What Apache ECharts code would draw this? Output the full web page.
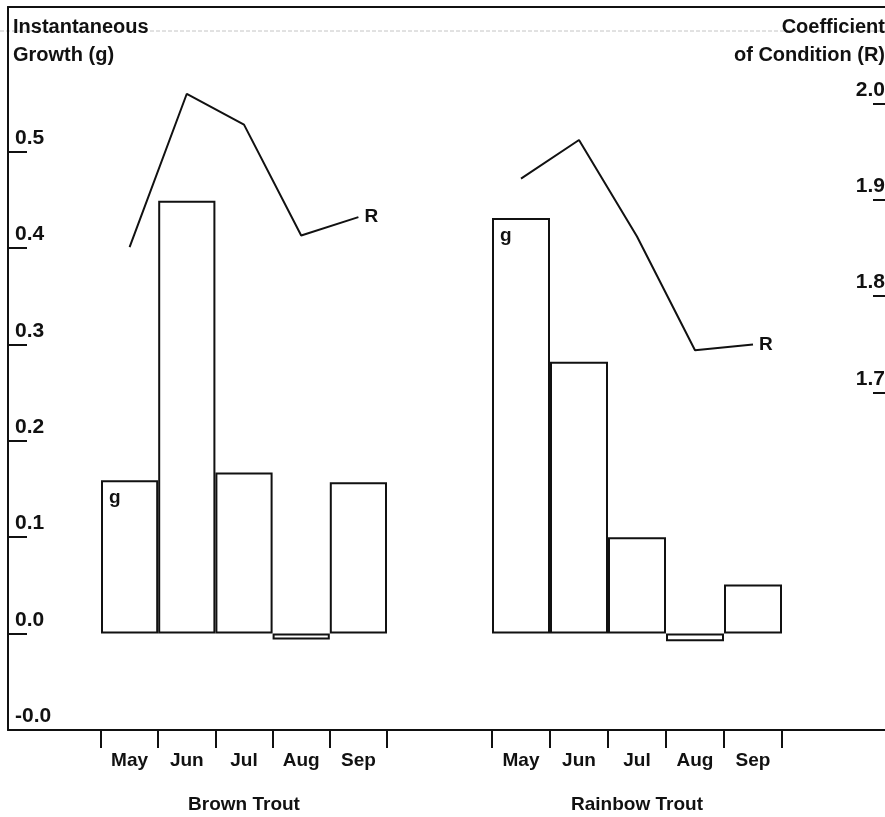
<!DOCTYPE html>
<html>
<head>
<meta charset="utf-8">
<script src="https://cdn.jsdelivr.net/npm/echarts@6/dist/echarts.min.js"></script>
<style>
  html, body { margin: 0; padding: 0; background: #fff; }
  #chart { width: 885px; height: 817px; }
</style>
</head>
<body>
<div id="chart"></div>
<script>
// Monthly instantaneous growth (bars) and coefficient of condition (lines)
const months = ['May', 'Jun', 'Jul', 'Aug', 'Sep'];
const species = ['Brown Trout', 'Rainbow Trout'];

const brownGrowth = [0.159, 0.449, 0.167, -0.006, 0.157];
const rainbowGrowth = [0.431, 0.282, 0.100, -0.008, 0.051];

const brownCondition = [1.851, 2.010, 1.978, 1.863, 1.882];
const rainbowCondition = [1.922, 1.962, 1.862, 1.744, 1.750];

const growthTicks = [-0.1, 0, 0.1, 0.2, 0.3, 0.4, 0.5];
const growthTickLabels = ['-0.0', '0.0', '0.1', '0.2', '0.3', '0.4', '0.5'];
const conditionTicks = [1.7, 1.8, 1.9, 2.0];
const conditionTickLabels = ['1.7', '1.8', '1.9', '2.0'];

const INK = '#111';
const FONT = 'Liberation Sans';
const GROWTH_MIN = -0.1, GROWTH_MAX = 0.65;
const COND_MIN = 1.35, COND_MAX = 2.1;

function tickLabel(values, labels) {
  return function (v) {
    for (let i = 0; i < values.length; i++) {
      if (Math.abs(values[i] - v) < 1e-6) return labels[i];
    }
    return '';
  };
}

const textBase = { fontFamily: FONT, fontWeight: 'bold', color: INK };
const hiddenAxis = { show: false };

function frameX(position) {
  return {
    gridIndex: 0, type: 'value', position: position, min: 0, max: 1,
    axisLine: { show: true, onZero: false, lineStyle: { color: INK, width: 2 } },
    axisTick: { show: false }, axisLabel: { show: false }, splitLine: { show: false }
  };
}

function panelX(gridIndex, name) {
  return {
    gridIndex: gridIndex, type: 'category', data: months, position: 'bottom',
    boundaryGap: true,
    axisLine: { show: false, onZero: false },
    axisTick: { show: true, length: 18, lineStyle: { color: INK, width: 2 } },
    axisLabel: Object.assign({ margin: 21, fontSize: 19 }, textBase),
    name: name, nameLocation: 'middle', nameGap: 65,
    nameTextStyle: Object.assign({ fontSize: 19 }, textBase),
    splitLine: { show: false }
  };
}

function panelY(gridIndex, min, max) {
  return Object.assign({ gridIndex: gridIndex, type: 'value', min: min, max: max }, hiddenAxis);
}

function growthBars(xIdx, yIdx, values) {
  return {
    type: 'bar', xAxisIndex: xIdx, yAxisIndex: yIdx,
    barCategoryGap: '0%',
    itemStyle: { color: '#fff', borderColor: INK, borderWidth: 2 },
    data: values.map(function (v, i) {
      const item = { value: v };
      if (i === 0) {
        item.label = Object.assign({
          show: true, formatter: 'g', position: 'insideTopLeft', distance: 8, fontSize: 19
        }, textBase);
      }
      return item;
    })
  };
}

function conditionLine(xIdx, yIdx, values) {
  return {
    type: 'line', xAxisIndex: xIdx, yAxisIndex: yIdx,
    symbol: 'none', silent: true,
    lineStyle: { color: INK, width: 2 },
    endLabel: Object.assign({ show: true, formatter: 'R', distance: 6, fontSize: 19 }, textBase),
    data: values
  };
}

const chart = echarts.init(document.getElementById('chart'), null, { renderer: 'canvas' });

chart.setOption({
  animation: false,
  backgroundColor: '#fff',
  title: [
    {
      text: 'Instantaneous\nGrowth (g)', left: 13, top: 13, padding: 0,
      textStyle: Object.assign({ fontSize: 20, lineHeight: 28 }, textBase)
    },
    {
      text: 'Coefficient\nof Condition (R)', left: 'right', top: 13, padding: 0,
      textStyle: Object.assign({ fontSize: 20, lineHeight: 28 }, textBase)
    }
  ],
  graphic: [
    {
      type: 'line', silent: true, z: -10,
      shape: { x1: 0, y1: 31, x2: 885, y2: 31 },
      style: { stroke: '#c4c4c4', lineWidth: 1, lineDash: [4, 2] }
    }
  ],
  grid: [
    { left: 8, right: 0, top: 7, bottom: 87, outerBoundsMode: 'none' },
    { left: 101, width: 286, top: 7, bottom: 87, outerBoundsMode: 'none' },
    { left: 492, width: 290, top: 7, bottom: 87, outerBoundsMode: 'none' }
  ],
  xAxis: [
    frameX('bottom'),
    frameX('top'),
    panelX(1, species[0]),
    panelX(2, species[1])
  ],
  yAxis: [
    {
      gridIndex: 0, type: 'value', position: 'left', min: GROWTH_MIN, max: GROWTH_MAX,
      axisLine: { show: true, onZero: false, lineStyle: { color: INK, width: 2 } },
      axisTick: { show: true, inside: true, length: 19, customValues: growthTicks,
                  lineStyle: { color: INK, width: 2 } },
      axisLabel: Object.assign({
        inside: true, customValues: growthTicks, formatter: tickLabel(growthTicks, growthTickLabels),
        align: 'left', verticalAlign: 'bottom', margin: 7, fontSize: 21, padding: [0, 0, 3, 0]
      }, textBase),
      splitLine: { show: false }
    },
    {
      gridIndex: 0, type: 'value', position: 'right', min: COND_MIN, max: COND_MAX,
      axisLine: { show: false, onZero: false },
      axisTick: { show: true, inside: true, length: 12, customValues: conditionTicks,
                  lineStyle: { color: INK, width: 2 } },
      axisLabel: Object.assign({
        inside: true, customValues: conditionTicks, formatter: tickLabel(conditionTicks, conditionTickLabels),
        align: 'right', verticalAlign: 'bottom', margin: 0, fontSize: 21, padding: [0, 0, 3, 0]
      }, textBase),
      splitLine: { show: false }
    },
    panelY(1, GROWTH_MIN, GROWTH_MAX),
    panelY(1, COND_MIN, COND_MAX),
    panelY(2, GROWTH_MIN, GROWTH_MAX),
    panelY(2, COND_MIN, COND_MAX)
  ],
  series: [
    growthBars(2, 2, brownGrowth),
    growthBars(3, 4, rainbowGrowth),
    conditionLine(2, 3, brownCondition),
    conditionLine(3, 5, rainbowCondition)
  ]
});
</script>
</body>
</html>
